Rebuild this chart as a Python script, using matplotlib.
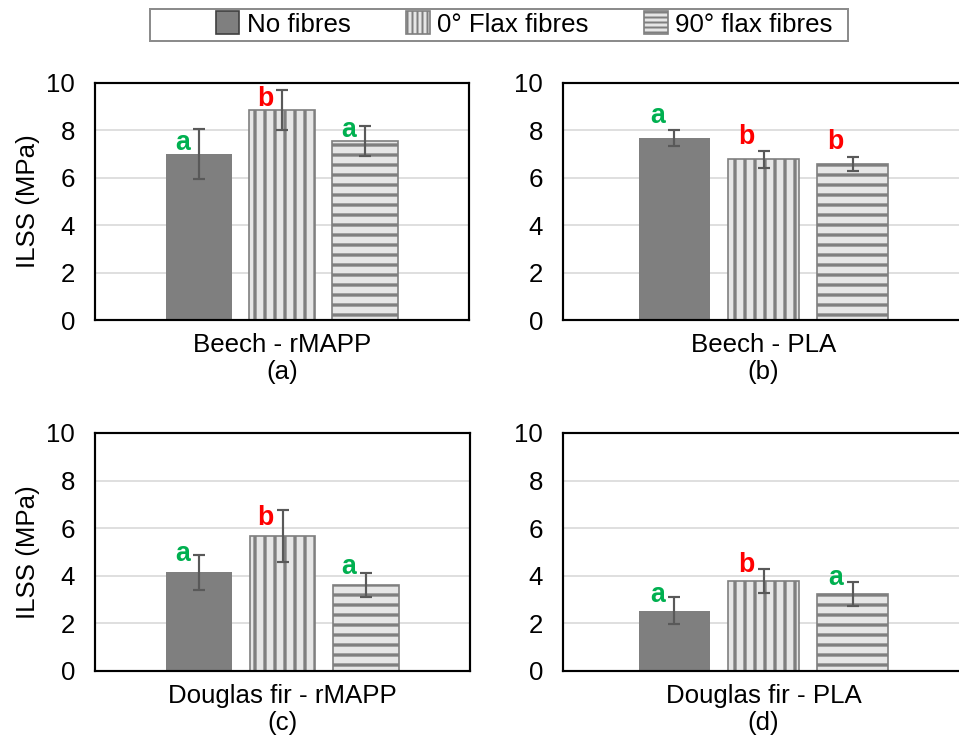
import numpy as np
import matplotlib
matplotlib.use('Agg')
import matplotlib.pyplot as plt
from matplotlib.patches import Patch, Rectangle

# ---- data ----
panels = ['Beech - rMAPP', 'Beech - PLA', 'Douglas fir - rMAPP', 'Douglas fir - PLA']
tags = ['(a)', '(b)', '(c)', '(d)']
series = ['No fibres', '0° Flax fibres', '90° flax fibres']

ilss_beech_rmapp = [7.00, 8.85, 7.55]
ilss_beech_pla = [7.68, 6.78, 6.58]
ilss_fir_rmapp = [4.15, 5.68, 3.63]
ilss_fir_pla = [2.54, 3.79, 3.24]

err_beech_rmapp = [1.07, 0.85, 0.62]
err_beech_pla = [0.32, 0.35, 0.28]
err_fir_rmapp = [0.73, 1.10, 0.50]
err_fir_pla = [0.57, 0.51, 0.49]

groups_beech_rmapp = ['a', 'b', 'a']
groups_beech_pla = ['a', 'b', 'b']
groups_fir_rmapp = ['a', 'b', 'a']
groups_fir_pla = ['a', 'b', 'a']

means = [ilss_beech_rmapp, ilss_beech_pla, ilss_fir_rmapp, ilss_fir_pla]
errs = [err_beech_rmapp, err_beech_pla, err_fir_rmapp, err_fir_pla]
groups = [groups_beech_rmapp, groups_beech_pla, groups_fir_rmapp, groups_fir_pla]

# ---- style ----
# dpi 120 so that the '||' / '--' hatch gives ~10 px stripe spacing like the original
DPI = 120
W, H = 959, 738
plt.rcParams['font.family'] = ['Liberation Sans', 'DejaVu Sans']
plt.rcParams['hatch.linewidth'] = 2.0
FS = 15.5

dark = '#7f7f7f'
light = '#e6e6e6'
letter_col = {'a': '#00b050', 'b': '#ff0000'}
bar_style = [dict(color=dark, hatch=None),
             dict(color=light, hatch='||'),
             dict(color=light, hatch='--')]
offsets = [-0.222, 0.0, 0.222]
width = 0.175

# axes boxes in pixels: left, right, top, bottom (right column runs off the page)
boxes = [(95, 469, 83, 320), (563, 964, 83, 320),
         (95, 470, 433, 671), (563, 964, 433, 671)]
label_dy = [2.4, 9.0, 6.6, 5.4]   # points above bar top for the letters

fig = plt.figure(figsize=(W / DPI, H / DPI), dpi=DPI)

for k in range(4):
    l, r, t, b = boxes[k]
    ax = fig.add_axes([l / W, 1 - b / H, (r - l) / W, (b - t) / H])
    for i in range(3):
        st = bar_style[i]
        ax.bar(offsets[i], means[k][i], width, color=st['color'], edgecolor=dark,
               hatch=st['hatch'], linewidth=1.0 if st['hatch'] else 0, zorder=2)
        ax.errorbar(offsets[i], means[k][i], yerr=errs[k][i], fmt='none', ecolor='#595959',
                    elinewidth=1.3, capsize=3.4, capthick=1.3, zorder=3)
        g = groups[k][i]
        ax.annotate(g, (offsets[i], means[k][i]), xytext=(-10, label_dy[k]),
                    textcoords='offset points', ha='center', va='baseline',
                    fontsize=16, fontweight='bold', color=letter_col[g], zorder=4)
    ax.set_xlim(-0.5, 0.5)
    ax.set_ylim(0, 10)
    ax.set_yticks(np.arange(0, 11, 2))
    ax.set_xticks([0])
    ax.set_xticklabels([panels[k] + '\n' + tags[k]], fontsize=FS, linespacing=1.15)
    ax.tick_params(axis='x', length=0, pad=8)
    ax.tick_params(axis='y', length=0, pad=12, labelsize=FS)
    ax.yaxis.grid(True, color='#d9d9d9', linewidth=1.0, zorder=0)
    ax.set_axisbelow(True)
    for sp in ax.spines.values():
        sp.set_color('black')
        sp.set_linewidth(1.3)
    if k in (0, 2):
        ax.set_ylabel('ILSS (MPa)', fontsize=FS, labelpad=4)

# legend with denser hatch for the small swatches
handles = [Patch(facecolor=dark, edgecolor='#404040', linewidth=1.0),
           Patch(facecolor=light, edgecolor=dark, hatch='||||', linewidth=1.0),
           Patch(facecolor=light, edgecolor=dark, hatch='----', linewidth=1.0)]
leg = fig.legend(handles, series, loc='center', bbox_to_anchor=(524 / W, 1 - 24 / H),
                 ncol=3, frameon=False, fontsize=FS, handlelength=0.92, handleheight=0.96,
                 handletextpad=0.28, columnspacing=2.15, borderpad=0, borderaxespad=0)
for p in leg.get_patches():
    if p.get_hatch() and hasattr(p, 'set_hatch_linewidth'):
        p.set_hatch_linewidth(1.2)

# legend frame is off-centre in the original, so draw it by hand
fig.patches.append(Rectangle((150 / W, 1 - 41 / H), (848 - 150) / W, 32 / H,
                             transform=fig.transFigure, fill=False,
                             edgecolor='#8c8c8c', linewidth=1.2))

fig.savefig('out.png', dpi=DPI)
